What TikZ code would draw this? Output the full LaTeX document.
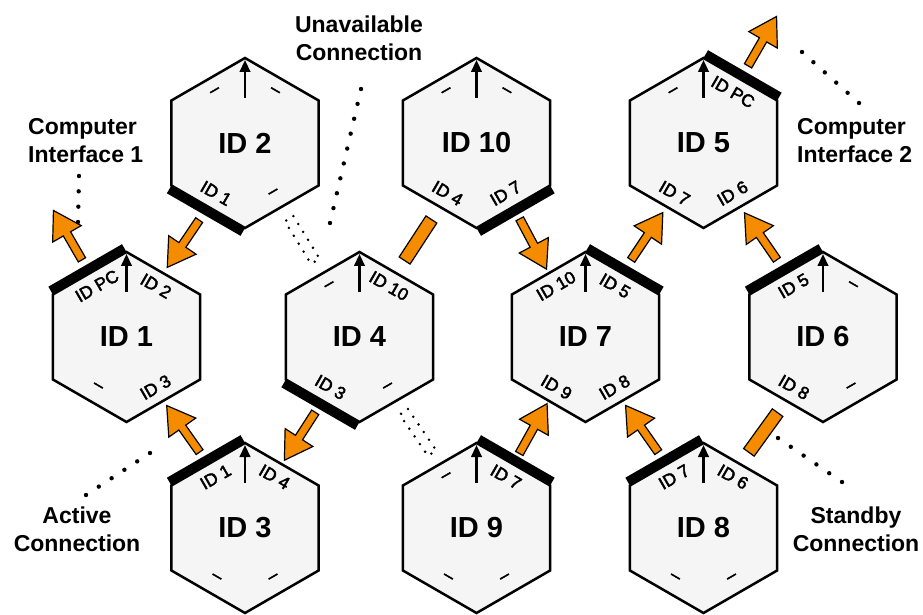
\documentclass[tikz,border=0pt]{standalone}
\usepackage{fontspec}
\setmainfont{Liberation Sans}
\newfontfamily\portfont[FakeBold=2.5]{Liberation Sans}
\usetikzlibrary{calc,arrows.meta}

\definecolor{flowfill}{RGB}{245,140,0}
\definecolor{cellfill}{RGB}{245,245,245}

\tikzset{
  hexline/.style={line width=2.5pt, line join=miter, fill=cellfill},
  cellname/.style={font=\bfseries\fontsize{29}{32}\selectfont, inner sep=0pt},
  portlabel/.style={font=\portfont\fontsize{17.5}{19}\selectfont, inner sep=0pt},
  portbar/.style={line width=9pt},
  uparrow/.style={line width=2.4pt, -{Triangle[length=12pt,width=10.5pt]}},
  flow/.style={draw=black, line width=1.2pt, fill=flowfill, line join=miter},
  standbybar/.style={draw=black, line width=1.2pt, fill=flowfill},
  deadlink/.style={line width=2.8pt, dash pattern=on 0pt off 9.3pt, line cap=round},
  note/.style={font=\bfseries\fontsize{23}{28}\selectfont, inner sep=0pt},
}

% one module: name, centre, title, labels of the upper-left, upper-right,
% lower-left and lower-right ports
\newcommand\hexcell[7]{%
  \coordinate (#1) at #2;
  \draw[hexline] ($(#1)+(90:85)$) -- ($(#1)+(30:85)$) -- ($(#1)+(-30:85)$)
    -- ($(#1)+(-90:85)$) -- ($(#1)+(-150:85)$) -- ($(#1)+(150:85)$) -- cycle;
  \coordinate (#1-ul) at ($(#1)+(120:73.6)$);
  \coordinate (#1-ur) at ($(#1)+(60:73.6)$);
  \coordinate (#1-ll) at ($(#1)+(240:73.6)$);
  \coordinate (#1-lr) at ($(#1)+(300:73.6)$);
  \node[cellname] (#1-name) at (#1) {#3};
  \node[portlabel, rotate=30]  (#1-ult) at ($(#1)+(120:59)$) {#4};
  \node[portlabel, rotate=-30] (#1-urt) at ($(#1)+(60:59)$) {#5};
  \node[portlabel, rotate=-30] (#1-llt) at ($(#1)+(240:58)$) {#6};
  \node[portlabel, rotate=30]  (#1-lrt) at ($(#1)+(300:58)$) {#7};
  \draw[uparrow] ($(#1)+(0,45)$) -- ($(#1)+(0,83)$);
}

% heavy bar on the outside of an occupied port: cell, corner angles, normal
\newcommand\portbar[4]{%
  \draw[portbar] ($(#1)+(#2:85)+(#4:4.5)$) -- ($(#1)+(#3:85)+(#4:4.5)$);
}

% block arrow for an active connection between two port midpoints
\newcommand\flowarrow[2]{%
  \coordinate (fa-m) at ($(#1)!0.5!(#2)$);
  \coordinate (fa-t) at ($(fa-m)!24pt!(#1)$);
  \coordinate (fa-h) at ($(fa-m)!33pt!(#2)$);
  \coordinate (fa-b) at ($(fa-h)!27pt!(fa-t)$);
  \draw[flow] ($(fa-t)!4.2pt!90:(fa-h)$) -- ($(fa-b)!4.2pt!90:(fa-h)$)
    -- ($(fa-b)!16.5pt!90:(fa-h)$) -- (fa-h) -- ($(fa-b)!16.5pt!-90:(fa-h)$)
    -- ($(fa-b)!4.2pt!-90:(fa-h)$) -- ($(fa-t)!4.2pt!-90:(fa-h)$) -- cycle;
}

% plain bar between two ports: ends, style, half width, half length
\newcommand\linkbar[5]{%
  \coordinate (lb-m) at ($(#1)!0.5!(#2)$);
  \coordinate (lb-a) at ($(lb-m)!#5pt!(#1)$);
  \coordinate (lb-b) at ($(lb-m)!#5pt!(#2)$);
  \draw[#3] ($(lb-a)!#4pt!90:(lb-b)$) -- ($(lb-b)!#4pt!-90:(lb-a)$)
    -- ($(lb-b)!#4pt!90:(lb-a)$) -- ($(lb-a)!#4pt!-90:(lb-b)$) -- cycle;
}

% row of round dots from a note to what it names
\newcommand\pointer[3]{%
  \foreach \k in {0,...,#3} \fill ($(#1)!\k/#3!(#2)$) circle (2.2);
}

\begin{document}
\begin{tikzpicture}[x=1pt,y=1pt]
\useasboundingbox (0,0) rectangle (923,614);
\fill[white] (0,0) rectangle (923,614);

% modules
\hexcell{c2}{(245,471)}{ID 2}{–}{–}{ID 1}{–}
\hexcell{c10}{(476.5,471)}{ID 10}{–}{–}{ID 4}{ID 7}
\hexcell{c5}{(703.5,471)}{ID 5}{–}{ID PC}{ID 7}{ID 6}
\hexcell{c1}{(126.5,277)}{ID 1}{ID PC}{ID 2}{–}{ID 3}
\hexcell{c4}{(359.5,277)}{ID 4}{–}{ID 10}{ID 3}{–}
\hexcell{c7}{(585.5,277)}{ID 7}{ID 10}{ID 5}{ID 9}{ID 8}
\hexcell{c6}{(823,277)}{ID 6}{ID 5}{–}{ID 8}{–}
\hexcell{c3}{(245,86)}{ID 3}{ID 1}{ID 4}{–}{–}
\hexcell{c9}{(476.5,86)}{ID 9}{–}{ID 7}{–}{–}
\hexcell{c8}{(703.5,86)}{ID 8}{ID 7}{ID 6}{–}{–}

% occupied ports
\portbar{c2}{210}{270}{240}
\portbar{c1}{150}{90}{120}
\portbar{c3}{150}{90}{120}
\portbar{c4}{210}{270}{240}
\portbar{c10}{270}{330}{300}
\portbar{c7}{90}{30}{60}
\portbar{c5}{90}{30}{60}
\portbar{c6}{150}{90}{120}
\portbar{c9}{90}{30}{60}
\portbar{c8}{150}{90}{120}

% computer interfaces
\coordinate (pc1) at ($(c1-ul)+(120:79)$);
\coordinate (pc2) at ($(c5-ur)+(60:79)$);

% active connections
\flowarrow{c2-ll}{c1-ur}
\flowarrow{c1-ul}{pc1}
\flowarrow{c3-ul}{c1-lr}
\flowarrow{c4-ll}{c3-ur}
\flowarrow{c10-lr}{c7-ul}
\flowarrow{c7-ur}{c5-ll}
\flowarrow{c6-ul}{c5-lr}
\flowarrow{c5-ur}{pc2}
\flowarrow{c9-ur}{c7-ll}
\flowarrow{c8-ul}{c7-lr}

% standby connections
\linkbar{c10-ll}{c4-ur}{standbybar}{6.5}{24.5}
\linkbar{c8-ur}{c6-ll}{standbybar}{6.5}{24.5}

% unavailable connections
\linkbar{c2-lr}{c4-ul}{deadlink}{5}{25}
\linkbar{c4-lr}{c9-ul}{deadlink}{5}{25}

% notes
\node[note, align=left, anchor=west] (n-ci1) at (28,473) {Computer\\Interface 1};
\node[note, align=center] (n-un) at (359,576) {Unavailable\\Connection};
\node[note, align=left, anchor=west] (n-ci2) at (797,473) {Computer\\Interface 2};
\node[note, align=center] (n-ac) at (77,85) {Active\\Connection};
\node[note, align=center] (n-sb) at (856,85) {Standby\\Connection};

\coordinate (d-ci1a) at (79,438);  \coordinate (d-ci1b) at (78,392);
\coordinate (d-una)  at (361,525); \coordinate (d-unb)  at (330,391);
\coordinate (d-ci2a) at (802,562); \coordinate (d-ci2b) at (859,511);
\coordinate (d-aca)  at (150,161); \coordinate (d-acb)  at (86,119);
\coordinate (d-sba)  at (778,176); \coordinate (d-sbb)  at (842,132);
\pointer{d-ci1a}{d-ci1b}{3}
\pointer{d-una}{d-unb}{9}
\pointer{d-ci2a}{d-ci2b}{5}
\pointer{d-aca}{d-acb}{5}
\pointer{d-sba}{d-sbb}{5}
\end{tikzpicture}
\end{document}
